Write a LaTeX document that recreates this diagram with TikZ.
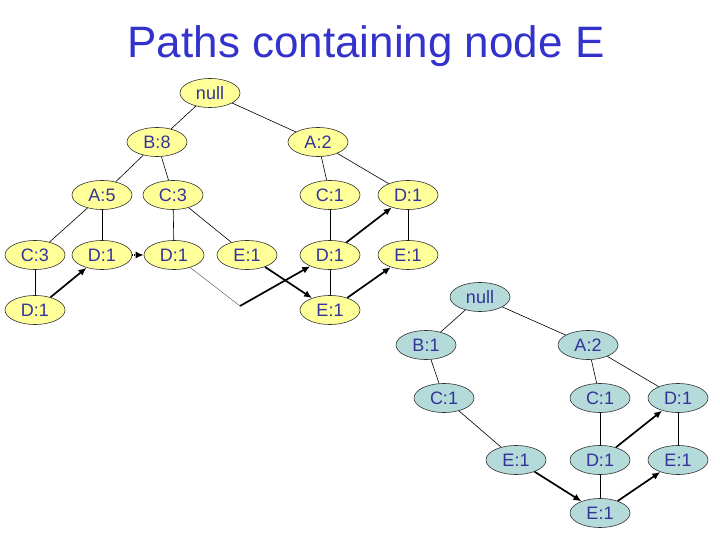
\documentclass[tikz,border=0pt]{standalone}
\usepackage{fontspec}
\setmainfont{Liberation Sans}
\usetikzlibrary{arrows.meta,shapes.geometric}
\definecolor{FPYellow}{HTML}{FFFF99}
\definecolor{FPTeal}{HTML}{B4DADA}
\definecolor{FPText}{HTML}{333399}
\definecolor{FPTitle}{HTML}{3333CC}
\begin{document}
\begin{tikzpicture}[x=1pt,y=-1pt,>=Latex]
\tikzset{ynode/.style={ellipse,draw=black!80,line width=.6pt,fill=FPYellow,text=FPText,font=\fontsize{18}{18}\selectfont,minimum width=60pt,minimum height=29pt,inner sep=0pt},bnode/.style={ynode,fill=FPTeal},tedge/.style={draw=black,line width=.6pt},plink/.style={-{Latex[length=8pt,width=7pt]},line width=1.7pt}}
\useasboundingbox (0,0) rectangle (720,540);
\node[anchor=base,text=FPTitle,font=\fontsize{44}{44}\selectfont] (title) at (366,58) {Paths containing node E};
% tree with all paths through E
\node[ynode] (n0) at (210,93) {null};
\node[ynode] (b8) at (157,142) {B:8};
\node[ynode] (a2) at (318,142) {A:2};
\node[ynode] (a5) at (102,195) {A:5};
\node[ynode] (c3) at (173,195) {C:3};
\node[ynode] (c1) at (330,195) {C:1};
\node[ynode] (d1r) at (408,195) {D:1};
\node[ynode] (c3b) at (35,255) {C:3};
\node[ynode] (d1a) at (102,255) {D:1};
\node[ynode] (d1b) at (174,255) {D:1};
\node[ynode] (e1a) at (247,255) {E:1};
\node[ynode] (d1c) at (330,255) {D:1};
\node[ynode] (e1b) at (408,255) {E:1};
\node[ynode] (d1d) at (35,310) {D:1};
\node[ynode] (e1c) at (330,310) {E:1};
\coordinate (cor) at (240,306);
\draw[tedge] (n0) -- (b8);
\draw[tedge] (n0) -- (a2);
\draw[tedge] (b8) -- (a5);
\draw[tedge] (b8) -- (c3);
\draw[tedge] (a2) -- (c1);
\draw[tedge] (a2) -- (d1r);
\draw[tedge] (a5) -- (c3b);
\draw[tedge] (a5) -- (d1a);
\draw[tedge] (c3) -- (d1b);
\draw[tedge] (c3) -- (e1a);
\draw[tedge] (c1) -- (d1c);
\draw[tedge] (d1r) -- (e1b);
\draw[tedge] (c3b) -- (d1d);
\draw[tedge] (d1c) -- (e1c);
\draw[plink] (d1d) -- (d1a);
\draw[plink,dash pattern=on 1pt off .8pt] (d1a) -- (d1b);
\draw[line width=.4pt,black!70] (d1b) -- (cor);
\draw[plink] (cor) -- (d1c);
\draw[plink] (e1a) -- (e1c);
\draw[plink] (d1c) -- (d1r);
\draw[plink] (e1c) -- (e1b);
% conditional tree for E
\node[bnode] (m0) at (480,297) {null};
\node[bnode] (mb1) at (426,345) {B:1};
\node[bnode] (ma2) at (588,345) {A:2};
\node[bnode] (mc1) at (444,398) {C:1};
\node[bnode] (mc1r) at (600,398) {C:1};
\node[bnode] (md1r) at (678,398) {D:1};
\node[bnode] (me1) at (516,460) {E:1};
\node[bnode] (md1) at (600,460) {D:1};
\node[bnode] (me1r) at (678,460) {E:1};
\node[bnode] (me1b) at (600,513) {E:1};
\draw[tedge] (m0) -- (mb1);
\draw[tedge] (m0) -- (ma2);
\draw[tedge] (mb1) -- (mc1);
\draw[tedge] (ma2) -- (mc1r);
\draw[tedge] (ma2) -- (md1r);
\draw[tedge] (mc1) -- (me1);
\draw[tedge] (mc1r) -- (md1);
\draw[tedge] (md1r) -- (me1r);
\draw[tedge] (md1) -- (me1b);
\draw[plink] (me1) -- (me1b);
\draw[plink] (md1) -- (md1r);
\draw[plink] (me1b) -- (me1r);
\end{tikzpicture}
\end{document}
